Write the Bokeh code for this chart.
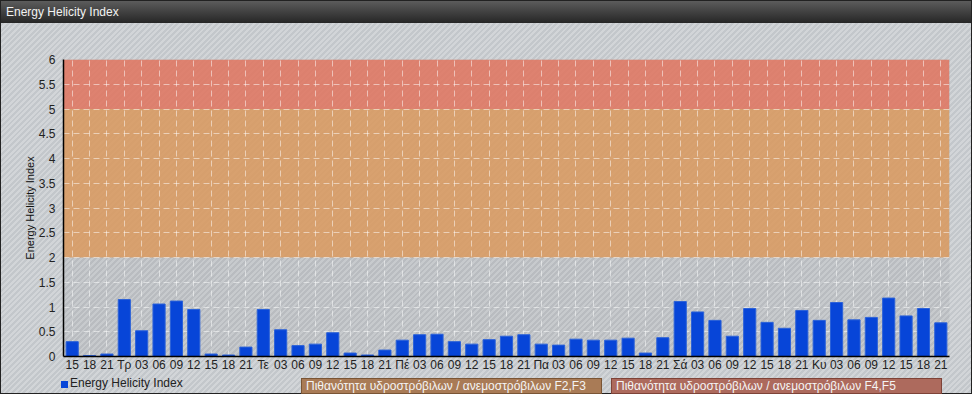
from bokeh.plotting import figure
from bokeh.models import Range1d, FixedTicker, NumeralTickFormatter, BoxAnnotation, Div
from bokeh.layouts import column
from bokeh.embed import file_html
from bokeh.resources import INLINE

title_text = "Energy Helicity Index"
series_name = "Energy Helicity Index"
x_labels = ["15", "18", "21", "Τρ", "03", "06", "09", "12", "15", "18", "21",
            "Τε", "03", "06", "09", "12", "15", "18", "21",
            "Πέ", "03", "06", "09", "12", "15", "18", "21",
            "Πα", "03", "06", "09", "12", "15", "18", "21",
            "Σά", "03", "06", "09", "12", "15", "18", "21",
            "Κυ", "03", "06", "09", "12", "15", "18", "21"]
ehi = [0.30, 0.02, 0.05, 1.15, 0.52, 1.06, 1.12, 0.95, 0.05, 0.03,
       0.19, 0.95, 0.54, 0.22, 0.25, 0.48, 0.07, 0.03, 0.13, 0.33,
       0.44, 0.45, 0.30, 0.25, 0.34, 0.41, 0.44, 0.25, 0.23, 0.35,
       0.33, 0.33, 0.37, 0.07, 0.38, 1.11, 0.90, 0.73, 0.41, 0.97,
       0.69, 0.57, 0.93, 0.73, 1.09, 0.74, 0.79, 1.18, 0.82, 0.97, 0.68]
y_ticks = [0, 0.5, 1, 1.5, 2, 2.5, 3, 3.5, 4, 4.5, 5, 5.5, 6]
band_bottoms = [2, 5]
band_tops = [5, 6]
band_colors = ["#db9a5e", "#e2765f"]
band_labels = ["Πιθανότητα υδροστρόβιλων / ανεμοστρόβιλων F2,F3",
               "Πιθανότητα υδροστρόβιλων / ανεμοστρόβιλων F4,F5"]

FONT = "Liberation Sans"
W = 970
xs = list(range(len(x_labels)))

hatch = ("repeating-linear-gradient(135deg, #c3c7cb 0px, #c3c7cb 2px, "
         "#d2d5d8 2px, #d2d5d8 4px)")

header = Div(
    text=(f'<div style="width:{W}px;height:22px;line-height:22px;'
          'background:linear-gradient(#5c5c5c,#262626);color:#f2f2f2;'
          f"font-family:'{FONT}';font-size:12px;padding-left:5px;"
          f'box-sizing:border-box;">{title_text}</div>'),
    width=W, height=22, margin=0)

p = figure(width=W, height=351,
           x_range=Range1d(-0.5, len(x_labels) - 0.5),
           y_range=Range1d(y_ticks[0], y_ticks[-1]),
           output_backend="svg", toolbar_location=None,
           min_border_left=62, min_border_right=22,
           min_border_top=36, min_border_bottom=0, margin=0)
p.background_fill_color = "#000000"
p.background_fill_alpha = 0.05
p.border_fill_alpha = 0
p.outline_line_color = None

for b, t, c in zip(band_bottoms, band_tops, band_colors):
    p.add_layout(BoxAnnotation(bottom=b, top=t, fill_color=c, fill_alpha=0.85,
                               line_color=None, level="image"))

p.vbar(x=xs, top=ehi, width=0.7, fill_color="#0745d8",
       line_color="#2c62d8", line_width=1)

p.xaxis.ticker = FixedTicker(ticks=xs)
p.xaxis.major_label_overrides = {i: lbl for i, lbl in zip(xs, x_labels)}
p.xaxis.major_tick_out = 0
p.xaxis.major_tick_in = 0
p.xaxis.minor_tick_line_color = None
p.xaxis.major_label_standoff = 1

p.yaxis.ticker = FixedTicker(ticks=y_ticks)
p.yaxis.formatter = NumeralTickFormatter(format="0.[0]")
p.yaxis.major_tick_out = 5
p.yaxis.major_tick_in = 0
p.yaxis.minor_tick_line_color = None
p.yaxis.major_label_standoff = 3
p.yaxis.axis_label = series_name
p.yaxis.axis_label_text_font = FONT
p.yaxis.axis_label_text_font_size = "11px"
p.yaxis.axis_label_text_font_style = "normal"
p.yaxis.axis_label_text_color = "#111111"
p.yaxis.axis_label_standoff = 0

for ax in (p.xaxis, p.yaxis):
    ax.axis_line_color = "#000000"
    ax.axis_line_width = 1.5
    ax.major_tick_line_color = "#000000" if ax is p.yaxis else None
    ax.major_label_text_font = FONT
    ax.major_label_text_font_size = "12px"
    ax.major_label_text_color = "#222222"

p.xgrid.ticker = FixedTicker(ticks=xs)
p.ygrid.ticker = FixedTicker(ticks=y_ticks)
p.grid.grid_line_color = "#ffffff"
p.grid.grid_line_alpha = 0.5
p.grid.grid_line_dash = "6 4"
p.grid.grid_line_width = 1

box_fill = ["#a97b56", "#ad6a5d"]
box_border = ["#7a5535", "#7e4338"]
box_left = [300, 610]
box_width = [301, 331]
boxes = "".join(
    f'<div style="position:absolute;left:{l}px;top:4px;width:{w}px;height:16px;'
    f'background:{f};border:1px solid {bc};color:#f4f4f4;padding-left:4px;'
    f'box-sizing:border-box;line-height:14px;white-space:nowrap;">{lbl}</div>'
    for l, w, f, bc, lbl in zip(box_left, box_width, box_fill, box_border, band_labels))
footer = Div(
    text=(f'<div style="position:relative;width:{W}px;height:19px;'
          f"font-family:'{FONT}';font-size:12px;\">"
          '<div style="position:absolute;left:60px;top:7px;width:7px;height:7px;'
          'background:#0745d8;"></div>'
          f'<div style="position:absolute;left:69px;top:1px;color:#222;">{series_name}</div>'
          f'{boxes}</div>'),
    width=W, height=19, margin=0)

layout = column(header, p, footer, spacing=0,
                styles={"background": hatch, "border": "1px solid #222",
                        "box-sizing": "border-box"})

open("out.html", "w").write(file_html(layout, INLINE))
